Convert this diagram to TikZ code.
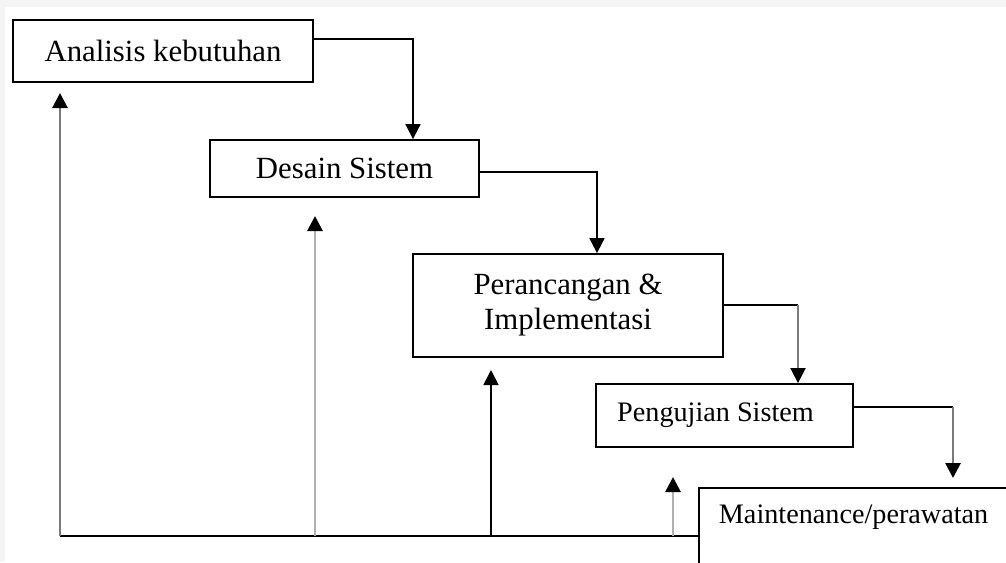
\documentclass[tikz,border=0pt]{standalone}
\usepackage{fontspec}
\setmainfont{Liberation Serif}
\usetikzlibrary{positioning, calc, arrows.meta}

\definecolor{lightline}{HTML}{B0B0B0}
\definecolor{midline}{HTML}{7A7A7A}
\definecolor{pagegray}{HTML}{F4F4F4}

\tikzset{
  stage/.style={draw, rectangle, line width=0.9pt, inner sep=0pt, align=center,
    font=\fontsize{15.4}{17.5}\selectfont},
  smallstage/.style={stage, font=\fontsize{14.1}{17}\selectfont},
  flow/.style={line width=0.9pt, -{Triangle[black, length=7.5pt, width=7.5pt]}},
  plain/.style={line width=0.9pt},
  greyflow/.style={flow, line width=1.4pt, draw=#1}
}

\begin{document}
\begin{tikzpicture}[x=0.5pt, y=-0.5pt]
   \useasboundingbox (0,0) rectangle (1006,562);
   \clip (0,0) rectangle (1006,562);
   \fill[pagegray] (0,0) rectangle (1006,562);
   \fill[white] (5,7) rectangle (1006,562);

   % stages of the waterfall
   \node[stage, minimum width=150pt, minimum height=31pt] (ana) at (163,51) {Analisis kebutuhan};
   \node[stage, minimum width=134.5pt, minimum height=28.5pt] (des) at (344.5,168.5) {Desain Sistem};
   \node[stage, minimum width=155pt, minimum height=51.5pt] (imp) at (568,305.5) {Perancangan \&\\Implementasi};
   \node[smallstage, minimum width=128.5pt, minimum height=31.5pt] (uji) at (724.5,415.5) {\hspace*{-9pt}Pengujian Sistem};
   \node[smallstage, anchor=north west, align=left, inner xsep=10pt, inner ysep=0pt,
         text width=200pt, text height=18pt, text depth=40pt] (mnt) at (698,487) {Maintenance/perawatan};

   % corners of the downward steps
   \coordinate (k1) at (413,39);
   \coordinate (k2) at (597,172);
   \coordinate (k3) at (798,305);
   \coordinate (k4) at (953,407);

   \draw[flow] (ana.east |- k1) -- (k1) -- (k1 |- des.north);
   \draw[flow] (des.east |- k2) -- (k2) -- (k2 |- imp.north);
   \draw[plain] (imp.east |- k3) -- (k3);
   \draw[flow, draw=midline] (k3) -- (k3 |- uji.north);
   \draw[plain] (uji.east |- k4) -- (k4);
   \draw[greyflow=midline, shorten >=4.5pt] (k4) -- (k4 |- mnt.north);

   % feedback lines
   \coordinate (b1) at (60,536);
   \coordinate (b2) at (315,536);
   \coordinate (b3) at (491,536);
   \coordinate (b4) at (673,536);
   \coordinate (t1) at (60,93);
   \coordinate (t2) at (315,216);
   \coordinate (t3) at (491,370);
   \coordinate (t4) at (673,477);

   \draw[plain] (b1) -- (b1 -| mnt.west);
   \draw[greyflow=midline] (b1) -- (t1);
   \draw[greyflow=lightline] (b2) -- (t2);
   \draw[flow] (b3) -- (t3);
   \draw[greyflow=lightline] (b4) -- (t4);
\end{tikzpicture}
\end{document}
